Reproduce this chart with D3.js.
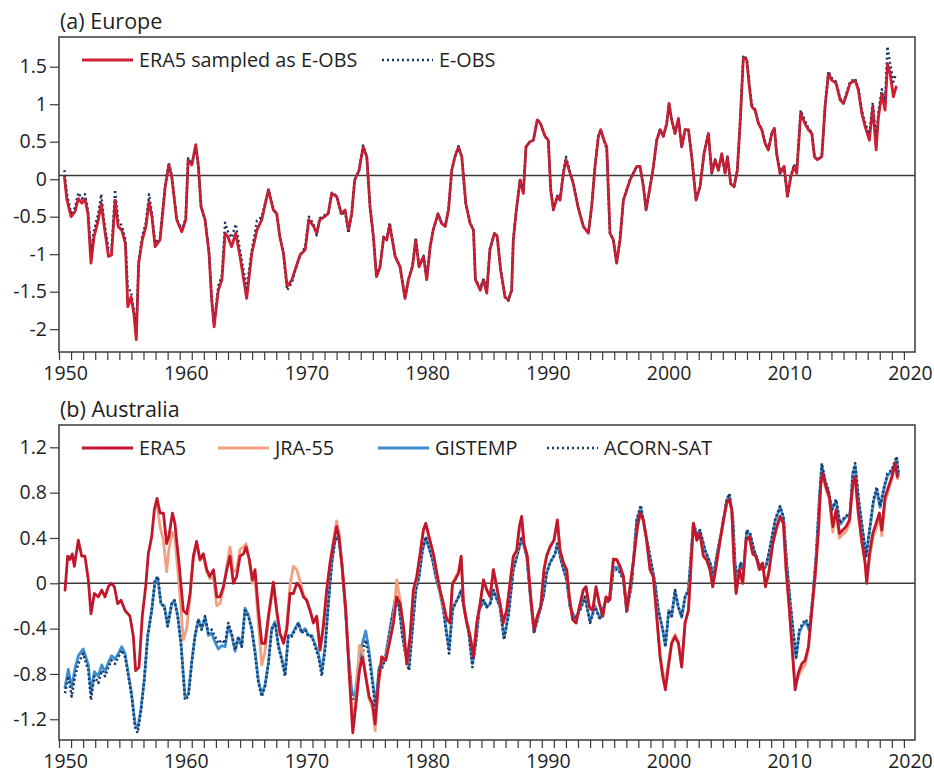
<!DOCTYPE html>
<html>
<head>
<meta charset="utf-8">
<script src="https://cdn.jsdelivr.net/npm/d3@7"></script>
<style>
  html, body { margin: 0; padding: 0; background: #fff; }
  svg { display: block; font-family: "Open Sans", "Noto Sans", sans-serif; }
</style>
</head>
<body>
<svg id="chart" width="934" height="773"></svg>
<script>
// ---------------- DATA ----------------
// (a) Europe: 12-month running mean anomalies (°C)
const euTime = [1950.45,1950.64,1951.0,1951.33,1951.6,1951.9,1952.15,1952.4,1952.65,1952.9,1953.26,1953.5,1953.75,1954.1,1954.35,1954.65,1954.9,1955.2,1955.5,1955.7,1955.97,1956.2,1956.4,1956.6,1956.9,1957.2,1957.46,1957.7,1957.96,1958.37,1958.8,1959.1,1959.34,1959.75,1960.17,1960.5,1960.7,1961.0,1961.33,1961.55,1961.77,1962.1,1962.43,1962.65,1962.85,1963.2,1963.5,1963.76,1964.0,1964.3,1964.64,1965.0,1965.55,1965.97,1966.4,1966.8,1967.35,1967.76,1968.04,1968.3,1968.6,1968.9,1969.3,1969.56,1969.97,1970.4,1970.7,1971.1,1971.35,1971.6,1972.0,1972.3,1972.6,1973.0,1973.4,1973.7,1973.98,1974.25,1974.5,1974.86,1975.2,1975.5,1975.77,1976.05,1976.3,1976.6,1976.9,1977.15,1977.4,1977.85,1978.26,1978.67,1978.95,1979.28,1979.56,1979.83,1980.2,1980.47,1980.75,1981.0,1981.4,1981.7,1982.0,1982.27,1982.54,1982.8,1983.1,1983.37,1983.7,1984.06,1984.34,1984.5,1984.9,1985.17,1985.44,1985.7,1986.08,1986.3,1986.59,1986.95,1987.23,1987.5,1987.64,1987.86,1988.2,1988.47,1988.69,1989.02,1989.3,1989.63,1989.9,1990.27,1990.54,1990.74,1990.96,1991.29,1991.51,1991.79,1992.0,1992.34,1992.61,1993.0,1993.44,1993.86,1994.13,1994.41,1994.69,1994.88,1995.16,1995.38,1995.65,1995.93,1996.2,1996.48,1996.76,1997.04,1997.31,1997.59,1997.87,1998.14,1998.42,1998.64,1998.97,1999.25,1999.52,1999.8,2000.07,2000.35,2000.54,2000.76,2001.04,2001.32,2001.59,2001.87,2002.15,2002.42,2002.78,2003.11,2003.44,2003.8,2004.08,2004.36,2004.63,2004.91,2005.18,2005.38,2005.65,2005.93,2006.2,2006.43,2006.7,2006.98,2007.2,2007.39,2007.67,2007.95,2008.22,2008.5,2008.77,2009.05,2009.27,2009.46,2009.74,2010.07,2010.35,2010.63,2010.9,2011.12,2011.45,2011.81,2012.09,2012.37,2012.59,2012.84,2013.2,2013.47,2013.75,2014.02,2014.38,2014.71,2014.99,2015.27,2015.54,2015.96,2016.23,2016.51,2016.79,2017.14,2017.42,2017.7,2017.89,2018.17,2018.44,2018.64,2018.86,2019.13,2019.35];
const euERA5 = [0.03,-0.26,-0.50,-0.43,-0.26,-0.32,-0.26,-0.46,-1.12,-0.77,-0.54,-0.32,-0.63,-1.03,-1.01,-0.28,-0.63,-0.68,-0.86,-1.70,-1.57,-1.79,-2.14,-1.12,-0.81,-0.63,-0.30,-0.50,-0.90,-0.81,-0.10,0.19,0.03,-0.54,-0.70,-0.54,0.26,0.19,0.46,0.17,-0.37,-0.54,-0.99,-1.61,-1.97,-1.48,-1.34,-0.72,-0.77,-0.90,-0.72,-1.03,-1.59,-0.99,-0.68,-0.54,-0.14,-0.41,-0.46,-0.77,-0.99,-1.43,-1.34,-1.21,-1.01,-0.94,-0.54,-0.63,-0.72,-0.54,-0.50,-0.46,-0.19,-0.23,-0.46,-0.41,-0.68,-0.46,-0.01,0.12,0.43,0.30,-0.37,-0.77,-1.30,-1.17,-0.77,-0.81,-0.61,-1.03,-1.17,-1.59,-1.34,-1.17,-0.81,-1.17,-1.03,-1.34,-0.90,-0.68,-0.46,-0.59,-0.63,-0.41,0.12,0.30,0.43,0.30,-0.32,-0.59,-0.68,-1.34,-1.48,-1.34,-1.52,-0.94,-0.72,-0.76,-1.21,-1.57,-1.61,-1.48,-0.81,-0.46,-0.01,-0.19,0.43,0.50,0.52,0.79,0.74,0.57,0.52,-0.14,-0.41,-0.23,-0.28,0.08,0.26,0.08,-0.06,-0.37,-0.63,-0.72,-0.37,0.17,0.57,0.66,0.52,0.43,-0.72,-0.81,-1.12,-0.81,-0.28,-0.14,-0.01,0.08,0.17,0.17,-0.10,-0.41,-0.10,0.17,0.52,0.66,0.57,0.74,1.01,0.79,0.61,0.81,0.43,0.66,0.66,0.30,-0.28,-0.10,0.34,0.61,0.08,0.26,0.12,0.34,0.08,0.30,-0.06,-0.10,0.12,0.74,1.63,1.59,1.23,0.97,0.92,0.74,0.66,0.48,0.39,0.61,0.68,0.34,0.08,0.17,-0.23,0.03,0.17,0.08,0.88,0.74,0.66,0.61,0.30,0.26,0.30,0.97,1.41,1.32,1.28,1.06,1.01,1.14,1.28,1.32,1.19,0.88,0.70,0.52,0.97,0.39,0.83,1.14,0.92,1.54,1.41,1.10,1.23];
const euEOBS = [0.12,-0.18,-0.45,-0.38,-0.18,-0.26,-0.20,-0.42,-0.95,-0.68,-0.45,-0.20,-0.58,-0.92,-0.95,-0.14,-0.55,-0.62,-0.80,-1.45,-1.50,-1.75,-2.05,-1.10,-0.75,-0.58,-0.20,-0.46,-0.85,-0.78,-0.08,0.22,0.05,-0.52,-0.68,-0.52,0.28,0.20,0.44,0.17,-0.37,-0.54,-0.97,-1.58,-1.93,-1.42,-1.28,-0.58,-0.70,-0.78,-0.60,-0.95,-1.45,-0.95,-0.55,-0.50,-0.14,-0.40,-0.46,-0.77,-1.00,-1.48,-1.38,-1.22,-1.02,-0.90,-0.50,-0.60,-0.75,-0.52,-0.48,-0.45,-0.18,-0.22,-0.48,-0.42,-0.72,-0.46,-0.01,0.12,0.45,0.30,-0.37,-0.77,-1.30,-1.15,-0.77,-0.80,-0.58,-1.03,-1.17,-1.59,-1.33,-1.16,-0.78,-1.16,-1.02,-1.32,-0.90,-0.68,-0.46,-0.58,-0.62,-0.40,0.12,0.30,0.44,0.30,-0.32,-0.58,-0.68,-1.33,-1.45,-1.33,-1.50,-0.93,-0.72,-0.76,-1.20,-1.57,-1.62,-1.48,-0.80,-0.45,0.00,-0.18,0.43,0.50,0.52,0.80,0.74,0.57,0.52,-0.14,-0.40,-0.22,-0.27,0.10,0.30,0.10,-0.05,-0.36,-0.63,-0.72,-0.36,0.18,0.58,0.66,0.50,0.40,-0.72,-0.81,-1.12,-0.80,-0.28,-0.14,0.00,0.08,0.17,0.17,-0.10,-0.41,-0.10,0.17,0.52,0.66,0.57,0.74,1.01,0.79,0.61,0.81,0.43,0.66,0.66,0.30,-0.28,-0.10,0.34,0.61,0.08,0.26,0.12,0.34,0.08,0.30,-0.06,-0.10,0.12,0.74,1.65,1.61,1.25,1.00,0.93,0.75,0.67,0.48,0.40,0.62,0.68,0.34,0.08,0.18,-0.22,0.04,0.20,0.10,0.92,0.78,0.68,0.62,0.30,0.26,0.30,0.97,1.44,1.35,1.30,1.08,1.02,1.16,1.30,1.34,1.20,0.92,0.75,0.60,1.02,0.55,0.90,1.20,1.05,1.77,1.55,1.30,1.40];
const euRefLine = 0.05;

// (b) Australia
const auTime = [1950.5,1950.72,1950.91,1951.1,1951.27,1951.6,1951.88,1952.15,1952.43,1952.65,1952.93,1953.26,1953.54,1953.81,1954.09,1954.31,1954.59,1954.86,1955.14,1955.47,1955.88,1956.16,1956.35,1956.63,1956.9,1957.18,1957.4,1957.68,1957.9,1958.12,1958.37,1958.65,1958.92,1959.1,1959.4,1959.6,1959.94,1960.3,1960.58,1960.86,1961.13,1961.4,1961.68,1961.96,1962.24,1962.5,1962.8,1963.07,1963.34,1963.62,1963.9,1964.17,1964.45,1964.72,1965.0,1965.28,1965.5,1965.77,1966.02,1966.24,1966.52,1966.8,1967.07,1967.35,1967.76,1968.04,1968.31,1968.6,1968.87,1969.14,1969.42,1969.7,1969.97,1970.25,1970.52,1970.8,1971.08,1971.35,1971.63,1971.9,1972.18,1972.46,1972.73,1973.0,1973.2,1973.48,1973.76,1974.03,1974.34,1974.61,1974.89,1975.14,1975.41,1975.69,1975.97,1976.19,1976.46,1976.74,1977.07,1977.43,1977.71,1977.98,1978.26,1978.54,1978.81,1979.09,1979.36,1979.64,1979.92,1980.19,1980.39,1980.66,1981.02,1981.3,1981.57,1981.85,1982.13,1982.4,1982.6,1982.82,1983.1,1983.32,1983.51,1983.78,1984.06,1984.34,1984.61,1984.89,1985.17,1985.44,1985.72,1985.99,1986.26,1986.54,1986.81,1987.09,1987.37,1987.64,1987.92,1988.14,1988.33,1988.53,1988.8,1989.08,1989.36,1989.63,1989.91,1990.18,1990.4,1990.68,1991.01,1991.29,1991.51,1991.79,1992.06,1992.28,1992.56,1992.84,1993.11,1993.44,1993.66,1993.94,1994.22,1994.49,1994.77,1995.05,1995.32,1995.6,1995.93,1996.21,1996.48,1996.76,1997.04,1997.31,1997.64,1997.92,1998.14,1998.42,1998.69,1998.97,1999.24,1999.52,1999.8,2000.02,2000.24,2000.52,2000.76,2001.04,2001.32,2001.59,2001.87,2002.15,2002.37,2002.56,2002.84,2003.11,2003.39,2003.66,2003.94,2004.16,2004.44,2004.77,2005.05,2005.32,2005.54,2005.74,2005.93,2006.1,2006.37,2006.65,2006.92,2007.2,2007.48,2007.75,2008.03,2008.3,2008.53,2008.8,2009.13,2009.47,2009.74,2010.02,2010.24,2010.52,2010.79,2010.99,2011.26,2011.54,2011.81,2012.09,2012.37,2012.64,2012.92,2013.11,2013.28,2013.55,2013.83,2014.11,2014.38,2014.66,2014.94,2015.21,2015.49,2015.77,2015.96,2016.23,2016.51,2016.79,2016.92,2017.15,2017.42,2017.7,2017.97,2018.17,2018.44,2018.72,2019.0,2019.27,2019.47];
const auERA5 = [-0.06,0.24,0.21,0.26,0.15,0.38,0.24,0.24,0.03,-0.27,-0.09,-0.12,-0.06,-0.12,-0.03,0.00,-0.03,-0.18,-0.15,-0.24,-0.29,-0.47,-0.77,-0.74,-0.29,-0.03,0.26,0.41,0.65,0.75,0.62,0.62,0.35,0.41,0.62,0.53,0.18,-0.24,-0.27,-0.09,0.24,0.37,0.21,0.26,0.12,0.06,0.12,-0.12,-0.12,-0.03,0.12,0.24,0.00,0.06,0.24,0.26,0.32,0.21,0.03,0.12,-0.24,-0.53,-0.53,-0.29,0.01,-0.24,-0.44,-0.53,-0.41,-0.09,-0.09,0.00,-0.03,-0.12,-0.15,-0.24,-0.35,-0.29,-0.59,-0.38,-0.06,0.18,0.35,0.50,0.41,0.12,-0.24,-0.77,-1.32,-1.06,-0.77,-0.65,-0.82,-1.00,-1.06,-1.24,-0.88,-0.65,-0.68,-0.50,-0.35,-0.12,-0.18,-0.38,-0.71,-0.47,-0.06,0.06,0.26,0.47,0.53,0.41,0.26,0.09,-0.06,-0.18,-0.32,-0.35,0.00,0.03,0.09,0.24,-0.18,-0.35,-0.47,-0.65,-0.35,-0.18,0.03,-0.06,-0.12,0.12,-0.03,-0.18,-0.35,-0.24,0.00,0.24,0.29,0.50,0.59,0.35,0.24,-0.12,-0.41,-0.29,-0.21,0.12,0.24,0.32,0.38,0.56,0.29,0.18,0.12,-0.12,-0.32,-0.35,-0.21,-0.06,-0.03,-0.21,-0.24,-0.03,-0.18,-0.29,-0.12,-0.15,0.21,0.21,0.15,0.06,-0.24,-0.03,0.24,0.50,0.62,0.56,0.38,0.12,0.06,-0.29,-0.65,-0.82,-0.94,-0.71,-0.53,-0.47,-0.53,-0.74,-0.35,-0.24,0.18,0.53,0.38,0.44,0.24,0.21,0.12,-0.03,0.15,0.38,0.56,0.71,0.74,0.65,0.18,-0.09,0.12,0.00,0.38,0.41,0.26,0.24,0.12,0.18,-0.03,0.09,0.35,0.50,0.59,0.53,0.12,-0.24,-0.65,-0.94,-0.79,-0.71,-0.68,-0.56,-0.24,0.06,0.47,0.88,0.97,0.85,0.76,0.50,0.65,0.44,0.47,0.50,0.56,0.88,0.94,0.62,0.38,0.18,0.00,0.26,0.44,0.53,0.62,0.47,0.76,0.85,0.94,1.06,0.94];

const jraTime = [1958.12,1958.37,1958.65,1958.92,1959.1,1959.4,1959.6,1959.94,1960.3,1960.58,1960.86,1961.13,1961.4,1961.68,1961.96,1962.24,1962.5,1962.8,1963.07,1963.34,1963.62,1963.9,1964.17,1964.45,1964.72,1965.0,1965.28,1965.5,1965.77,1966.02,1966.24,1966.52,1966.8,1967.07,1967.35,1967.76,1968.04,1968.31,1968.6,1968.87,1969.14,1969.42,1969.7,1969.97,1970.25,1970.52,1970.8,1971.08,1971.35,1971.63,1971.9,1972.18,1972.46,1972.73,1973.0,1973.2,1973.48,1973.76,1974.03,1974.34,1974.61,1974.89,1975.14,1975.41,1975.69,1975.97,1976.19,1976.46,1976.74,1977.07,1977.43,1977.71,1977.98,1978.26,1978.54,1978.81,1979.09,1979.36,1979.64,1979.92,1980.19,1980.39,1980.66,1981.02,1981.3,1981.57,1981.85,1982.13,1982.4,1982.6,1982.82,1983.1,1983.32,1983.51,1983.78,1984.06,1984.34,1984.61,1984.89,1985.17,1985.44,1985.72,1985.99,1986.26,1986.54,1986.81,1987.09,1987.37,1987.64,1987.92,1988.14,1988.33,1988.53,1988.8,1989.08,1989.36,1989.63,1989.91,1990.18,1990.4,1990.68,1991.01,1991.29,1991.51,1991.79,1992.06,1992.28,1992.56,1992.84,1993.11,1993.44,1993.66,1993.94,1994.22,1994.49,1994.77,1995.05,1995.32,1995.6,1995.93,1996.21,1996.48,1996.76,1997.04,1997.31,1997.64,1997.92,1998.14,1998.42,1998.69,1998.97,1999.24,1999.52,1999.8,2000.02,2000.24,2000.52,2000.76,2001.04,2001.32,2001.59,2001.87,2002.15,2002.37,2002.56,2002.84,2003.11,2003.39,2003.66,2003.94,2004.16,2004.44,2004.77,2005.05,2005.32,2005.54,2005.74,2005.93,2006.1,2006.37,2006.65,2006.92,2007.2,2007.48,2007.75,2008.03,2008.3,2008.53,2008.8,2009.13,2009.47,2009.74,2010.02,2010.24,2010.52,2010.79,2010.99,2011.26,2011.54,2011.81,2012.09,2012.37,2012.64,2012.92,2013.11,2013.28,2013.55,2013.83,2014.11,2014.38,2014.66,2014.94,2015.21,2015.49,2015.77,2015.96,2016.23,2016.51,2016.79,2016.92,2017.15,2017.42,2017.7,2017.97,2018.17,2018.44,2018.72,2019.0,2019.27,2019.47];
const auJRA55 = [0.70,0.50,0.38,0.10,0.30,0.45,0.40,0.00,-0.50,-0.40,-0.12,0.22,0.35,0.20,0.24,0.10,0.04,0.05,-0.20,-0.18,-0.05,0.15,0.32,0.10,0.12,0.30,0.32,0.35,0.20,0.00,0.05,-0.35,-0.72,-0.60,-0.32,0.00,-0.26,-0.45,-0.50,-0.38,-0.02,0.15,0.12,0.02,-0.10,-0.15,-0.24,-0.35,-0.30,-0.58,-0.38,-0.06,0.18,0.37,0.55,0.45,0.12,-0.24,-0.75,-1.25,-1.00,-0.55,-0.60,-0.82,-1.02,-1.10,-1.30,-0.92,-0.65,-0.66,-0.48,-0.32,0.03,-0.15,-0.38,-0.72,-0.47,-0.08,0.05,0.26,0.47,0.52,0.40,0.25,0.08,-0.08,-0.20,-0.32,-0.30,0.00,0.05,0.10,0.22,-0.16,-0.33,-0.45,-0.63,-0.36,-0.18,0.03,-0.05,-0.12,0.12,-0.02,-0.18,-0.34,-0.24,0.00,0.22,0.28,0.48,0.57,0.35,0.24,-0.12,-0.40,-0.29,-0.20,0.12,0.24,0.32,0.38,0.54,0.29,0.18,0.12,-0.12,-0.32,-0.35,-0.21,-0.06,-0.03,-0.22,-0.24,-0.04,-0.18,-0.29,-0.12,-0.15,0.22,0.20,0.15,0.06,-0.24,-0.03,0.24,0.49,0.60,0.55,0.37,0.12,0.05,-0.29,-0.63,-0.78,-0.88,-0.68,-0.52,-0.45,-0.52,-0.72,-0.35,-0.24,0.18,0.52,0.38,0.43,0.24,0.20,0.12,-0.03,0.15,0.37,0.55,0.70,0.73,0.64,0.18,-0.08,0.12,0.00,0.37,0.40,0.26,0.23,0.12,0.17,-0.03,0.09,0.34,0.49,0.58,0.52,0.12,-0.24,-0.62,-0.90,-0.82,-0.76,-0.72,-0.58,-0.25,0.05,0.46,0.86,0.95,0.83,0.74,0.45,0.62,0.40,0.43,0.46,0.53,0.86,0.92,0.60,0.36,0.17,0.02,0.22,0.40,0.48,0.58,0.42,0.72,0.82,0.92,1.03,0.92];

const obsTime = [1950.5,1950.77,1951.05,1951.33,1951.6,1952.0,1952.43,1952.65,1952.93,1953.26,1953.54,1953.81,1954.09,1954.36,1954.64,1954.92,1955.19,1955.47,1955.75,1956.02,1956.3,1956.52,1956.8,1957.07,1957.35,1957.68,1957.96,1958.18,1958.45,1958.73,1959.0,1959.34,1959.56,1959.83,1960.1,1960.44,1960.72,1960.99,1961.27,1961.55,1961.82,1962.1,1962.38,1962.65,1962.93,1963.2,1963.48,1963.76,1964.03,1964.31,1964.59,1964.86,1965.14,1965.41,1965.69,1965.97,1966.24,1966.52,1966.8,1967.07,1967.35,1967.62,1967.9,1968.18,1968.45,1968.73,1969.0,1969.28,1969.56,1969.83,1970.1,1970.39,1970.66,1970.94,1971.22,1971.49,1971.77,1972.04,1972.32,1972.6,1972.87,1973.15,1973.43,1973.7,1973.98,1974.25,1974.53,1974.8,1975.08,1975.41,1975.69,1975.97,1976.24,1976.52,1976.8,1977.07,1977.35,1977.62,1977.9,1978.18,1978.45,1978.73,1979.0,1979.28,1979.56,1979.83,1980.11,1980.39,1980.66,1980.94,1981.22,1981.57,1981.85,1982.13,1982.32,1982.6,1982.82,1983.1,1983.32,1983.59,1983.92,1984.25,1984.53,1984.81,1985.17,1985.44,1985.72,1985.99,1986.54,1986.87,1987.23,1987.64,1988.14,1988.33,1988.75,1989.08,1989.36,1989.71,1990.13,1990.4,1990.68,1991.1,1991.29,1991.65,1992.06,1992.34,1992.75,1993.17,1993.58,1994.0,1994.41,1994.82,1995.24,1995.65,1995.93,1996.34,1996.76,1997.04,1997.45,1997.86,1998.2,1998.55,1998.97,1999.38,1999.66,2000.02,2000.24,2000.52,2000.76,2001.04,2001.32,2001.59,2001.87,2002.15,2002.56,2002.84,2003.11,2003.53,2003.94,2004.22,2004.49,2004.91,2005.32,2005.54,2005.82,2006.01,2006.21,2006.48,2006.7,2006.98,2007.26,2007.59,2007.95,2008.3,2008.58,2008.91,2009.33,2009.74,2010.02,2010.29,2010.57,2010.85,2011.07,2011.34,2011.62,2011.9,2012.17,2012.45,2012.73,2013.0,2013.2,2013.47,2013.75,2014.02,2014.38,2014.71,2015.13,2015.54,2015.76,2015.96,2016.23,2016.51,2016.87,2017.15,2017.48,2017.75,2018.03,2018.36,2018.64,2018.99,2019.4,2019.55];
const auACORN = [-0.97,-0.82,-1.00,-0.82,-0.71,-0.62,-0.77,-1.03,-0.82,-0.88,-0.77,-0.82,-0.74,-0.68,-0.71,-0.65,-0.59,-0.65,-0.82,-1.00,-1.27,-1.32,-1.12,-0.85,-0.47,-0.24,0.03,0.06,-0.18,-0.21,-0.38,-0.18,-0.15,-0.29,-0.53,-1.03,-1.00,-0.71,-0.47,-0.32,-0.41,-0.29,-0.44,-0.41,-0.47,-0.53,-0.50,-0.53,-0.35,-0.44,-0.59,-0.47,-0.56,-0.24,-0.29,-0.41,-0.62,-0.88,-1.00,-0.91,-0.71,-0.41,-0.35,-0.56,-0.68,-0.82,-0.47,-0.47,-0.41,-0.35,-0.44,-0.41,-0.47,-0.47,-0.56,-0.65,-0.82,-0.59,-0.18,0.18,0.38,0.41,0.18,-0.18,-0.65,-1.00,-1.06,-0.82,-0.65,-0.50,-0.65,-0.88,-1.12,-0.77,-0.74,-0.65,-0.47,-0.29,-0.12,-0.21,-0.47,-0.65,-0.77,-0.41,-0.06,0.06,0.29,0.41,0.32,0.21,0.06,-0.09,-0.24,-0.47,-0.62,-0.24,-0.18,-0.12,-0.06,-0.24,-0.41,-0.74,-0.53,-0.24,-0.15,-0.21,-0.18,-0.06,-0.21,-0.50,-0.29,0.12,0.32,0.41,0.24,-0.15,-0.44,-0.29,-0.12,0.09,0.18,0.26,0.35,0.18,0.03,-0.21,-0.32,-0.24,-0.12,-0.35,-0.21,-0.32,-0.18,-0.15,0.12,0.12,0.03,-0.26,0.00,0.56,0.69,0.47,0.24,0.00,-0.24,-0.41,-0.56,-0.24,-0.29,-0.06,-0.21,-0.29,-0.12,-0.06,0.53,0.44,0.47,0.29,0.18,0.06,0.24,0.47,0.74,0.79,0.59,0.18,0.03,0.18,0.09,0.47,0.44,0.29,0.18,0.12,0.15,0.32,0.56,0.68,0.59,0.18,-0.15,-0.44,-0.65,-0.41,-0.35,-0.32,-0.41,-0.12,0.24,0.76,1.06,0.91,0.82,0.65,0.74,0.53,0.59,0.62,0.97,1.06,0.76,0.53,0.24,0.47,0.74,0.85,0.68,0.85,0.97,1.00,1.12,0.97];
const auGISTEMP = [-0.92,-0.76,-0.92,-0.75,-0.64,-0.58,-0.72,-0.97,-0.78,-0.82,-0.72,-0.78,-0.70,-0.64,-0.67,-0.62,-0.56,-0.62,-0.80,-0.98,-1.24,-1.28,-1.10,-0.84,-0.46,-0.24,0.02,0.05,-0.18,-0.20,-0.37,-0.18,-0.15,-0.28,-0.52,-1.00,-0.98,-0.70,-0.46,-0.32,-0.40,-0.30,-0.46,-0.44,-0.52,-0.58,-0.55,-0.56,-0.38,-0.46,-0.60,-0.48,-0.55,-0.22,-0.28,-0.40,-0.60,-0.86,-0.98,-0.90,-0.70,-0.40,-0.34,-0.55,-0.66,-0.80,-0.46,-0.46,-0.40,-0.35,-0.43,-0.40,-0.46,-0.46,-0.54,-0.62,-0.78,-0.56,-0.17,0.18,0.38,0.42,0.18,-0.18,-0.62,-0.95,-1.00,-0.72,-0.55,-0.42,-0.60,-0.85,-1.08,-0.74,-0.72,-0.63,-0.45,-0.28,-0.12,-0.20,-0.45,-0.63,-0.74,-0.40,-0.06,0.06,0.29,0.40,0.31,0.21,0.06,-0.09,-0.23,-0.45,-0.58,-0.23,-0.18,-0.12,-0.06,-0.24,-0.40,-0.71,-0.52,-0.24,-0.15,-0.21,-0.18,-0.06,-0.21,-0.48,-0.28,0.12,0.32,0.40,0.24,-0.15,-0.43,-0.29,-0.12,0.09,0.18,0.26,0.35,0.18,0.03,-0.21,-0.31,-0.23,-0.12,-0.34,-0.20,-0.31,-0.17,-0.14,0.14,0.14,0.04,-0.25,0.01,0.55,0.67,0.46,0.23,0.00,-0.24,-0.41,-0.55,-0.24,-0.29,-0.07,-0.21,-0.30,-0.12,-0.06,0.52,0.43,0.46,0.29,0.18,0.06,0.24,0.46,0.73,0.78,0.58,0.18,0.04,0.18,0.10,0.46,0.43,0.29,0.18,0.12,0.15,0.31,0.55,0.67,0.58,0.18,-0.16,-0.46,-0.66,-0.43,-0.37,-0.34,-0.42,-0.13,0.24,0.75,1.04,0.90,0.81,0.64,0.73,0.52,0.58,0.61,0.96,1.04,0.75,0.52,0.24,0.46,0.72,0.83,0.67,0.84,0.95,0.99,1.10,0.96];

const euTicks = [1.5, 1, 0.5, 0, -0.5, -1, -1.5, -2];
const auTicks = [1.2, 0.8, 0.4, 0, -0.4, -0.8, -1.2];
const decadeLabels = [1950, 1960, 1970, 1980, 1990, 2000, 2010, 2020];
const yearTicks = d3.range(1950, 2021);

// ---------------- DRAWING ----------------
const svg = d3.select("#chart");
const FONT = 19.5;
const COL = {
  eraEu: "#cf1f31", eobs: "#1b3566",
  eraAu: "#c0172d", jra: "#f4a07e", gis: "#3f8fcf", acorn: "#173868",
  axis: "#3a3a3a", text: "#1e1e1e"
};

const x = d3.scaleLinear().domain([1950, 2020.92]).range([59, 915]);

function panel(top, bottom, yDomain, ticks, title, refVal) {
  const y = d3.scaleLinear().domain(yDomain).range([bottom, top]);
  const g = svg.append("g");
  g.append("text").attr("x", 60).attr("y", top - 8)
    .attr("font-size", 21.5).attr("fill", COL.text).text(title);
  const ya = g.append("g").attr("transform", `translate(59,0)`)
    .call(d3.axisLeft(y).tickValues(ticks).tickSize(9).tickPadding(3).tickFormat(d => String(d)));
  ya.select(".domain").remove();
  ya.selectAll("line").attr("stroke", COL.axis).attr("stroke-width", 1.2);
  ya.selectAll("text").attr("font-size", FONT).attr("fill", COL.text).attr("font-family", "Open Sans");
  const xa = g.append("g").attr("transform", `translate(0,${bottom})`)
    .call(d3.axisBottom(x).tickValues(yearTicks).tickSize(8).tickFormat(""));
  xa.select(".domain").remove();
  xa.selectAll("line").attr("stroke", COL.axis).attr("stroke-width", 1.2);
  const xl = g.append("g").attr("transform", `translate(0,${bottom})`)
    .call(d3.axisBottom(x).tickValues(decadeLabels.map(d => d + 0.5)).tickSize(0).tickPadding(14)
      .tickFormat(d => String(Math.round(d - 0.5))));
  xl.select(".domain").remove();
  xl.selectAll("text").attr("font-size", FONT).attr("fill", COL.text).attr("font-family", "Open Sans");
  g.append("line").attr("x1", 59).attr("x2", 915).attr("y1", y(refVal)).attr("y2", y(refVal))
    .attr("stroke", "#3a3a3a").attr("stroke-width", 1.6);
  return { g, y };
}

function drawLine(p, times, vals, color, width, dash) {
  const data = times.map((t, i) => [t, vals[i]]);
  const line = d3.line().x(d => x(d[0])).y(d => p.y(d[1]));
  const path = p.g.append("path").datum(data).attr("d", line)
    .attr("fill", "none").attr("stroke", color).attr("stroke-width", width)
    .attr("stroke-linejoin", "round");
  if (dash) path.attr("stroke-dasharray", dash).attr("stroke-linecap", "butt");
  else path.attr("stroke-linecap", "round");
}

function frame(top, bottom) {
  svg.append("rect").attr("x", 59).attr("y", top).attr("width", 915 - 59).attr("height", bottom - top)
    .attr("fill", "none").attr("stroke", COL.axis).attr("stroke-width", 1.5);
}

function legendItem(p, x1, yy, color, width, dash, label) {
  const l = p.g.append("line").attr("x1", x1).attr("x2", x1 + 51).attr("y1", yy).attr("y2", yy)
    .attr("stroke", color).attr("stroke-width", width);
  if (dash) l.attr("stroke-dasharray", dash);
  p.g.append("text").attr("x", x1 + 57).attr("y", yy + 7).attr("font-size", FONT + 0.3)
    .attr("fill", COL.text).text(label);
}

// Panel (a)
const pa = panel(37, 352, [-2.304, 1.896], euTicks, "(a) Europe", euRefLine);
drawLine(pa, euTime, euERA5, COL.eraEu, 2.8, null);
drawLine(pa, euTime, euEOBS, COL.eobs, 2.4, "2,2.8");
drawLine(pa, euTime, euERA5, COL.eraEu, 1.6, null);
frame(37, 352);
legendItem(pa, 82, 60, COL.eraEu, 2.8, null, "ERA5 sampled as E-OBS");
legendItem(pa, 382, 60, COL.eobs, 2.4, "2,3", "E-OBS");

// Panel (b)
const pb = panel(425, 740, [-1.383, 1.397], auTicks, "(b) Australia", 0);
drawLine(pb, obsTime, auGISTEMP, COL.gis, 2.8, null);
drawLine(pb, obsTime, auACORN, COL.acorn, 2.6, "2,2.5");
drawLine(pb, jraTime, auJRA55, COL.jra, 2.8, null);
drawLine(pb, auTime, auERA5, COL.eraAu, 2.8, null);
frame(425, 740);
legendItem(pb, 82, 448, COL.eraAu, 2.8, null, "ERA5");
legendItem(pb, 218, 448, COL.jra, 2.8, null, "JRA-55");
legendItem(pb, 378, 448, COL.gis, 2.8, null, "GISTEMP");
legendItem(pb, 547, 448, COL.acorn, 2.4, "2,3", "ACORN-SAT");
</script>
</body>
</html>
